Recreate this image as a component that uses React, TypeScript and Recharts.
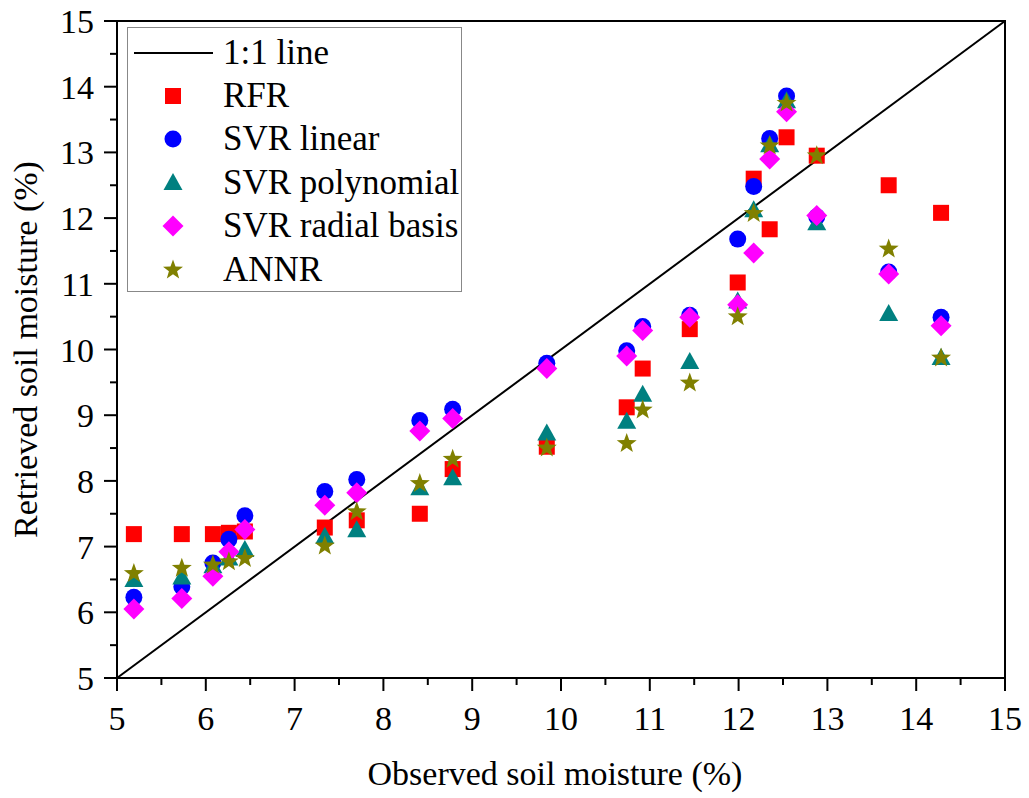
import { ScatterChart, Scatter, XAxis, YAxis, ReferenceArea, Legend, Label } from "recharts";

// observed soil moisture (%) at each validation site
const observed = [5.19, 5.73, 6.08, 6.26, 6.44, 7.34, 7.7, 8.41, 8.78, 9.84, 10.74, 10.92, 11.45, 11.99, 12.17, 12.35, 12.54, 12.88, 13.69, 14.28];

// retrieved soil moisture (%) per model, same site order
const rfr = [7.19, 7.19, 7.19, 7.21, 7.23, 7.29, 7.4, 7.5, 8.18, 8.52, 9.12, 9.71, 10.31, 11.02, 12.6, 11.83, 13.23, 12.95, 12.5, 12.08];
const svrLinear = [6.23, 6.39, 6.75, 7.11, 7.47, 7.84, 8.02, 8.92, 9.09, 9.79, 9.98, 10.35, 10.52, 11.68, 12.48, 13.21, 13.86, 12.02, 11.18, 10.49];
const svrPoly = [6.49, 6.53, 6.7, 6.82, 6.95, 7.15, 7.25, 7.89, 8.04, 8.72, 8.9, 9.31, 9.81, 10.73, 12.12, 13.11, 13.78, 11.92, 10.54, 9.87];
const svrRadial = [6.05, 6.21, 6.55, 6.92, 7.26, 7.63, 7.82, 8.76, 8.95, 9.71, 9.9, 10.29, 10.49, 10.68, 11.47, 12.9, 13.62, 12.04, 11.15, 10.36];
const annr = [6.59, 6.67, 6.72, 6.77, 6.82, 7.01, 7.53, 7.96, 8.33, 8.5, 8.57, 9.08, 9.49, 10.5, 12.07, 13.1, 13.75, 12.95, 11.53, 9.87];

const oneToOne = [5, 15];
const majorTicks = [5, 6, 7, 8, 9, 10, 11, 12, 13, 14, 15];
const allTicks = majorTicks.flatMap((t) => (t < 15 ? [t, t + 0.5] : [t]));

const FONT = "'Liberation Serif', 'Times New Roman', serif";
const FS = 34;

const toPoints = (ys: number[]) => ys.map((y, i) => ({ x: observed[i], y }));

type Kind = "square" | "circle" | "triangle" | "diamond" | "star";

const Marker = ({ kind, cx, cy, color }: { kind: Kind; cx: number; cy: number; color: string }) => {
  if (kind === "square") return <rect x={cx - 8} y={cy - 8} width={16} height={16} fill={color} />;
  if (kind === "circle") return <circle cx={cx} cy={cy} r={8.5} fill={color} />;
  if (kind === "triangle")
    return <polygon points={`${cx},${cy - 10} ${cx + 9.5},${cy + 7} ${cx - 9.5},${cy + 7}`} fill={color} />;
  if (kind === "diamond")
    return <polygon points={`${cx},${cy - 10.5} ${cx + 10.5},${cy} ${cx},${cy + 10.5} ${cx - 10.5},${cy}`} fill={color} />;
  const pts: string[] = [];
  for (let k = 0; k < 10; k++) {
    const r = k % 2 === 0 ? 10.5 : 4.3;
    const a = -Math.PI / 2 + (k * Math.PI) / 5;
    pts.push(`${cx + r * Math.cos(a)},${cy + r * Math.sin(a)}`);
  }
  return <polygon points={pts.join(" ")} fill={color} />;
};

const series: { name: string; values: number[]; kind: Kind; color: string }[] = [
  { name: "RFR", values: rfr, kind: "square", color: "#ff0000" },
  { name: "SVR linear", values: svrLinear, kind: "circle", color: "#0000ff" },
  { name: "SVR polynomial", values: svrPoly, kind: "triangle", color: "#008080" },
  { name: "SVR radial basis", values: svrRadial, kind: "diamond", color: "#ff00ff" },
  { name: "ANNR", values: annr, kind: "star", color: "#808000" },
];

const XTick = (props: any) => {
  const { x, y, payload } = props;
  const major = Number.isInteger(payload.value);
  return (
    <g>
      <line x1={x} x2={x} y1={y} y2={y + (major ? 13 : 7)} stroke="#000" strokeWidth={2} />
      {major && (
        <text x={x} y={y + 52} textAnchor="middle" fontFamily={FONT} fontSize={FS} fill="#000">
          {payload.value}
        </text>
      )}
    </g>
  );
};

const YTick = (props: any) => {
  const { x, y, payload } = props;
  const major = Number.isInteger(payload.value);
  return (
    <g>
      <line x1={x} x2={x - (major ? 13 : 7)} y1={y} y2={y} stroke="#000" strokeWidth={2} />
      {major && (
        <text x={x - 23} y={y + 12} textAnchor="end" fontFamily={FONT} fontSize={FS} fill="#000">
          {payload.value}
        </text>
      )}
    </g>
  );
};

const LegendBox = () => (
  <div
    style={{
      width: 333,
      border: "1.5px solid #888",
      background: "#fff",
      paddingTop: 3,
      fontFamily: FONT,
      fontSize: 35,
      color: "#000",
    }}
  >
    <div style={{ display: "flex", alignItems: "center", height: 43.4 }}>
      <svg width={95} height={20} style={{ flex: "none" }}>
        <line x1={6} x2={85} y1={10} y2={10} stroke="#000" strokeWidth={2} />
      </svg>
      <span style={{ whiteSpace: "nowrap" }}>1:1 line</span>
    </div>
    {series.map((s) => (
      <div key={s.name} style={{ display: "flex", alignItems: "center", height: 43.4 }}>
        <svg width={95} height={24} style={{ flex: "none" }}>
          <Marker kind={s.kind} cx={45} cy={12} color={s.color} />
        </svg>
        <span style={{ whiteSpace: "nowrap" }}>{s.name}</span>
      </div>
    ))}
  </div>
);

export default function App() {
  return (
    <div style={{ position: "absolute", left: 0, top: 0, background: "#fff" }}>
      <ScatterChart width={1029} height={798} margin={{ top: 21, right: 24, left: 0, bottom: 0 }}>
        <XAxis
          type="number"
          dataKey="x"
          domain={[5, 15]}
          ticks={allTicks}
          interval={0}
          height={120}
          tickSize={0}
          tickMargin={0}
          tickLine={false}
          tick={<XTick />}
          axisLine={{ stroke: "#000", strokeWidth: 2 }}
        >
          <Label
            content={({ viewBox }: any) => (
              <text
                x={viewBox.x + viewBox.width / 2 - 6}
                y={viewBox.y + 107}
                textAnchor="middle"
                fontFamily={FONT}
                fontSize={FS}
                fill="#000"
              >
                Observed soil moisture (%)
              </text>
            )}
          />
        </XAxis>
        <YAxis
          type="number"
          dataKey="y"
          domain={[5, 15]}
          ticks={allTicks}
          interval={0}
          width={117}
          tickSize={0}
          tickMargin={0}
          tickLine={false}
          tick={<YTick />}
          axisLine={{ stroke: "#000", strokeWidth: 2 }}
        >
          <Label
            content={({ viewBox }: any) => {
              const cy = viewBox.y + viewBox.height / 2;
              return (
                <text
                  x={37}
                  y={cy}
                  transform={`rotate(-90, 37, ${cy})`}
                  textAnchor="middle"
                  fontFamily={FONT}
                  fontSize={FS}
                  fill="#000"
                >
                  Retrieved soil moisture (%)
                </text>
              );
            }}
          />
        </YAxis>
        <ReferenceArea x1={5} x2={15} y1={5} y2={15} fill="none" stroke="#000" strokeWidth={2} />
        <Scatter
          name="1:1 line"
          data={oneToOne.map((v) => ({ x: v, y: v }))}
          line={{ stroke: "#000", strokeWidth: 2 }}
          shape={() => <g />}
          isAnimationActive={false}
        />
        {series.map((s) => (
          <Scatter
            key={s.name}
            name={s.name}
            data={toPoints(s.values)}
            fill={s.color}
            shape={(p: any) => <Marker kind={s.kind} cx={p.cx} cy={p.cy} color={s.color} />}
            isAnimationActive={false}
          />
        ))}
        <Legend
          layout="vertical"
          align="center"
          verticalAlign="middle"
          content={() => <LegendBox />}
          wrapperStyle={{ left: 127, top: 27, width: 336 }}
        />
      </ScatterChart>
    </div>
  );
}
